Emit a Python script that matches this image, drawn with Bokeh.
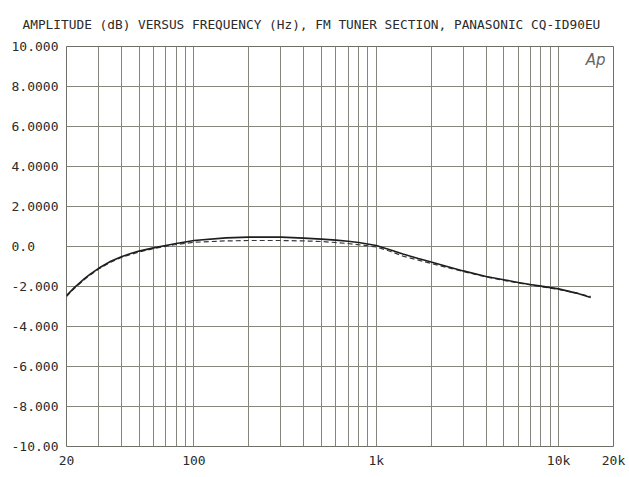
from bokeh.plotting import figure
from bokeh.models import Range1d, FixedTicker, Label
from bokeh.embed import file_html
from bokeh.resources import INLINE

title_text = "AMPLITUDE (dB) VERSUS FREQUENCY (Hz), FM TUNER SECTION, PANASONIC CQ-ID90EU"

# Solid trace (Hz, dB)
freq_a = [20, 22, 25, 27, 30, 35, 40, 45, 50, 60, 70, 80, 100, 150, 200, 300, 400, 500,
          600, 700, 800, 1000, 1200, 1400, 1700, 2000, 2500, 3000, 4000, 5000, 6000, 7000,
          8000, 10000, 12500, 15000]
level_a = [-2.46, -2.07, -1.62, -1.38, -1.09, -0.74, -0.51, -0.35, -0.23, -0.07, 0.05,
           0.15, 0.30, 0.43, 0.47, 0.47, 0.42, 0.37, 0.32, 0.26, 0.20, 0.05, -0.17,
           -0.38, -0.60, -0.78, -1.02, -1.22, -1.50, -1.66, -1.80, -1.90, -1.98, -2.12,
           -2.33, -2.55]

# Dashed trace (Hz, dB)
freq_b = [20, 22, 25, 27, 30, 35, 40, 50, 60, 70, 80, 100, 150, 200, 300, 400, 500, 700,
          1000, 1200, 1400, 1700, 2000, 2500, 3000, 4000, 5000, 7000, 10000, 12500, 15000]
level_b = [-2.50, -2.11, -1.66, -1.42, -1.13, -0.78, -0.55, -0.27, -0.11, 0.01, 0.10,
           0.21, 0.28, 0.30, 0.30, 0.28, 0.25, 0.15, -0.02, -0.25, -0.48, -0.68, -0.85,
           -1.07, -1.25, -1.52, -1.70, -1.92, -2.15, -2.32, -2.50]

y_ticks = [10, 8, 6, 4, 2, 0, -2, -4, -6, -8, -10]
y_tick_labels = ["10.000", "8.0000", "6.0000", "4.0000", "2.0000", "0.0\u00a0\u00a0\u00a0",
                 "-2.000", "-4.000", "-6.000", "-8.000", "-10.00"]
x_ticks = [20, 100, 1000, 10000, 20000]
x_tick_labels = ["20", "100", "1k", "10k", "20k"]
x_grid = [m * 10 ** e for e in range(1, 4) for m in range(1, 10) if 20 <= m * 10 ** e] + [10000, 20000]

FONT = "DejaVu Sans Mono"
TXT = "#2b2b2b"

p = figure(width=629, height=477, x_axis_type="log",
           x_range=Range1d(20, 20000), y_range=Range1d(-10, 10),
           output_backend="svg", toolbar_location=None,
           min_border_left=66, min_border_right=16, min_border_top=46, min_border_bottom=31)
p.background_fill_color = "white"
p.border_fill_color = "white"
p.outline_line_color = "#6f6f6a"
p.outline_line_width = 1

p.title.text = title_text
p.title.align = "left"
p.title.offset = -44
p.title.standoff = 29
p.title.text_font = FONT
p.title.text_font_size = "12.8px"
p.title.text_font_style = "normal"
p.title.text_color = TXT

p.xaxis.ticker = FixedTicker(ticks=x_ticks)
p.xaxis.major_label_overrides = {t: s for t, s in zip(x_ticks, x_tick_labels)}
p.yaxis.ticker = FixedTicker(ticks=y_ticks)
p.yaxis.major_label_overrides = {t: s for t, s in zip(y_ticks, y_tick_labels)}
for ax in (p.xaxis, p.yaxis):
    ax.axis_line_color = None
    ax.major_tick_line_color = None
    ax.minor_tick_line_color = None
    ax.major_tick_out = 0
    ax.minor_tick_out = 0
    ax.major_label_text_font = FONT
    ax.major_label_text_font_size = "13px"
    ax.major_label_text_color = TXT
p.xaxis.major_label_standoff = 6
p.yaxis.major_label_standoff = 8

p.xgrid.ticker = FixedTicker(ticks=x_grid)
p.ygrid.ticker = FixedTicker(ticks=y_ticks)
p.xgrid.grid_line_color = "#85857d"
p.ygrid.grid_line_color = "#85857d"
p.xgrid.grid_line_width = 1
p.ygrid.grid_line_width = 1

p.line(freq_b, level_b, line_color="#3a3a3a", line_width=1.2, line_dash="5 3")
p.line(freq_a, level_a, line_color="#1e1e1e", line_width=1.6)

p.add_layout(Label(x=20000, y=10, x_offset=-8, y_offset=-4, text="Ap",
                   text_font="DejaVu Sans", text_font_style="italic",
                   text_font_size="15px", text_color="#666666",
                   text_align="right", text_baseline="top"))

open("out.html", "w").write(file_html(p, INLINE))
